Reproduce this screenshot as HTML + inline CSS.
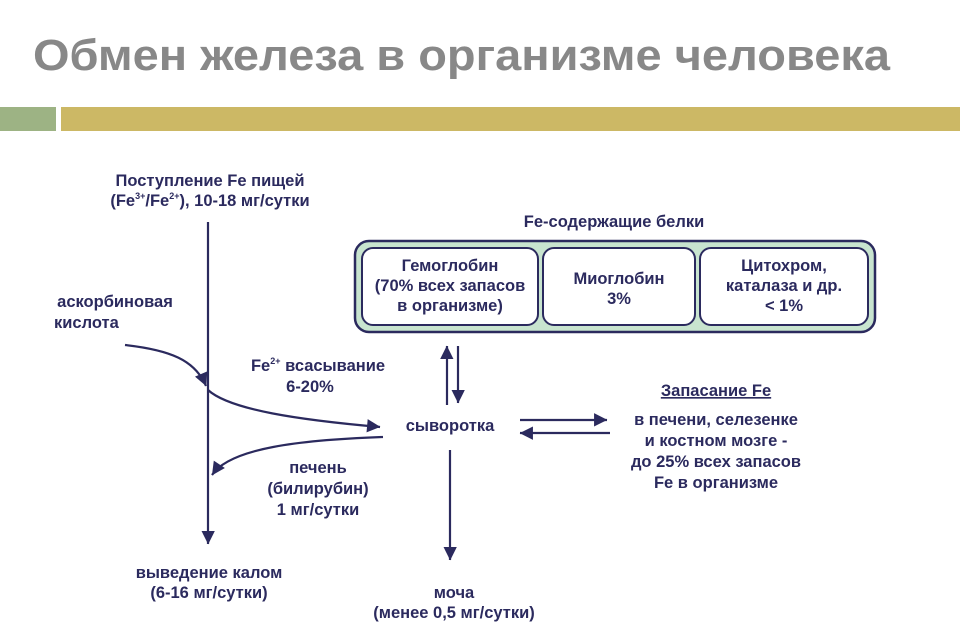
<!DOCTYPE html>
<html><head><meta charset="utf-8"><style>
html,body{margin:0;padding:0;background:#fff;}
svg{display:block;font-family:"Liberation Sans",Arial,sans-serif;}
.t{font-weight:bold;font-size:16.5px;fill:#2b2a5e;text-anchor:middle;}
</style></head><body>
<svg width="960" height="643" viewBox="0 0 960 643" xmlns="http://www.w3.org/2000/svg">
<defs>
<marker id="a" viewBox="0 0 10 10" refX="9" refY="5" markerWidth="7" markerHeight="7" markerUnits="userSpaceOnUse" orient="auto" style="overflow:visible">
<path d="M0,0 L10,5 L0,10 z" fill="#2b2a5e" transform="scale(1.9) translate(-5,-2.5)"/>
</marker>
</defs>
<text x="33" y="70" font-size="44" font-weight="bold" fill="#888" textLength="857" lengthAdjust="spacingAndGlyphs">Обмен железа в организме человека</text>
<rect x="0" y="107" width="56" height="24" fill="#9db384"/>
<rect x="61" y="107" width="899" height="24" fill="#ccb865"/>

<g stroke="#2b2a5e" stroke-width="2.2" fill="none">
<line x1="208" y1="222" x2="208" y2="544" marker-end="url(#a)"/>
<path d="M125,345 C170,350 195,360 206,386" marker-end="url(#a)"/>
<path d="M208,390 C230,410 300,420 380,427" marker-end="url(#a)"/>
<path d="M383,437 C300,440 230,448 212,475" marker-end="url(#a)"/>
<line x1="447" y1="405" x2="447" y2="346" marker-end="url(#a)"/>
<line x1="458" y1="346" x2="458" y2="403" marker-end="url(#a)"/>
<line x1="450" y1="450" x2="450" y2="560" marker-end="url(#a)"/>
<line x1="520" y1="420" x2="607" y2="420" marker-end="url(#a)"/>
<line x1="610" y1="433" x2="520" y2="433" marker-end="url(#a)"/>
</g>

<rect x="355" y="241" width="520" height="91" rx="14" fill="#c8e4cf" stroke="#2b2a5e" stroke-width="2.5"/>
<rect x="362" y="248" width="176" height="77" rx="11" fill="#fff" stroke="#2b2a5e" stroke-width="2"/>
<rect x="543" y="248" width="152" height="77" rx="11" fill="#fff" stroke="#2b2a5e" stroke-width="2"/>
<rect x="700" y="248" width="168" height="77" rx="11" fill="#fff" stroke="#2b2a5e" stroke-width="2"/>

<text class="t" x="450" y="271">Гемоглобин</text>
<text class="t" x="450" y="291">(70% всех запасов</text>
<text class="t" x="450" y="311">в организме)</text>
<text class="t" x="619" y="284">Миоглобин</text>
<text class="t" x="619" y="304">3%</text>
<text class="t" x="784" y="271">Цитохром,</text>
<text class="t" x="784" y="291">каталаза и др.</text>
<text class="t" x="784" y="311">&lt; 1%</text>

<text class="t" x="614" y="227">Fe-содержащие белки</text>
<text class="t" x="210" y="186">Поступление Fe пищей</text>
<text class="t" x="210" y="206">(Fe<tspan font-size="9" dy="-7">3+</tspan><tspan dy="7">/Fe</tspan><tspan font-size="9" dy="-7">2+</tspan><tspan dy="7">), 10-18 мг/сутки</tspan></text>
<text class="t" x="115" y="307">аскорбиновая</text>
<text class="t" x="54" y="328" style="text-anchor:start">кислота</text>
<text class="t" x="318" y="371">Fe<tspan font-size="9" dy="-7">2+</tspan><tspan dy="7"> всасывание</tspan></text>
<text class="t" x="310" y="392">6-20%</text>
<text class="t" x="450" y="431">сыворотка</text>
<text class="t" x="318" y="473">печень</text>
<text class="t" x="318" y="494">(билирубин)</text>
<text class="t" x="318" y="515">1 мг/сутки</text>
<text class="t" x="209" y="578">выведение  калом</text>
<text class="t" x="209" y="598">(6-16 мг/сутки)</text>
<text class="t" x="454" y="598">моча</text>
<text class="t" x="454" y="618">(менее 0,5 мг/сутки)</text>
<text class="t" x="716" y="396" text-decoration="underline">Запасание Fe</text>
<text class="t" x="716" y="425">в печени, селезенке</text>
<text class="t" x="716" y="446">и костном мозге -</text>
<text class="t" x="716" y="467">до 25% всех запасов</text>
<text class="t" x="716" y="488">Fe в организме</text>
</svg>
</body></html>
